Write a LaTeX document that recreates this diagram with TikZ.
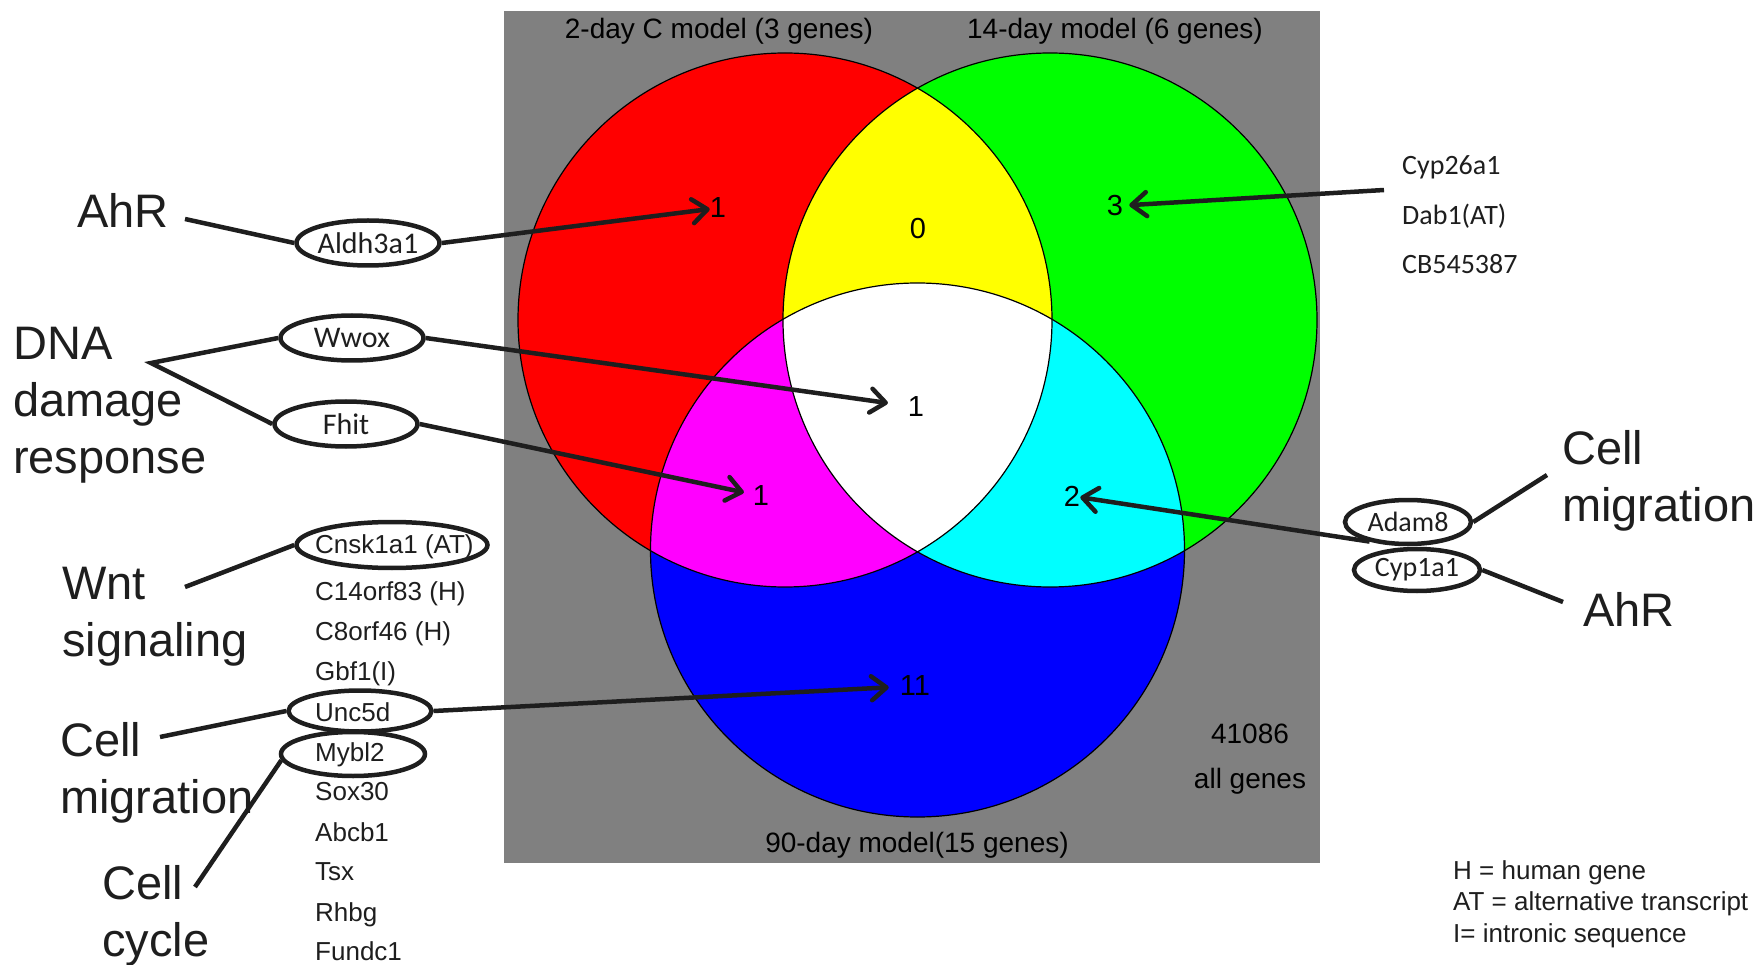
\documentclass[tikz,border=0pt]{standalone}
\usepackage{fontspec}
\setmainfont{Liberation Sans}
\newfontfamily\calfont{Carlito}
\usepackage{xcolor}
\usepackage{tikz}
\usetikzlibrary{shapes}
\usetikzlibrary{arrows.meta}
\definecolor{ink}{HTML}{1E1E1E}
\definecolor{venngray}{HTML}{808080}
\definecolor{vennmagenta}{RGB}{255,0,255}
\definecolor{venncyan}{RGB}{0,255,255}
\definecolor{vennyellow}{RGB}{255,255,0}
\tikzset{ region/.style = {draw=black, line width=1.2pt} }
\tikzset{ boxlabel/.style = {inner sep=0pt, anchor=base, font=\fontsize{28}{34}\selectfont} }
\tikzset{ tally/.style = {inner sep=0pt, font=\fontsize{29}{34}\selectfont} }
\tikzset{ topic/.style = {inner sep=0pt, anchor=north west, align=left, text=ink, font=\fontsize{47}{57}\selectfont} }
\tikzset{ gene/.style = {ellipse, draw=ink, line width=4.5pt, inner sep=0pt, text=ink} }
\tikzset{ leftgene/.style = {gene, minimum width=143pt, minimum height=45pt, font=\calfont\fontsize{30}{36}\selectfont} }
\tikzset{ rightgene/.style = {gene, minimum width=126pt, minimum height=44pt, font=\calfont\fontsize{28}{34}\selectfont} }
\tikzset{ genename/.style = {inner sep=0pt, anchor=base west, text=ink, font=\fontsize{26}{30}\selectfont} }
\tikzset{ calname/.style = {inner sep=0pt, anchor=base west, text=ink, font=\calfont\fontsize{28}{34}\selectfont} }
\tikzset{ link/.style = {draw=ink, line width=4.5pt} }
\tikzset{ pointer/.style = {link, -{Straight Barb[length=15pt, width=24pt, round]}} }

\begin{document}
\begin{tikzpicture}[x=1pt, y=-1pt]
    \useasboundingbox (0,0) rectangle (1762,965);
    \def\rad{267}
    \coordinate (cA) at (785,320);
    \coordinate (cB) at (1050,320);
    \coordinate (cC) at (917.5,550);
    \fill[venngray] (504,11) rectangle (1320,863);
    \fill[red] (cA) circle[radius=\rad];
    \fill[green] (cB) circle[radius=\rad];
    \fill[blue] (cC) circle[radius=\rad];
    \begin{scope}
        \clip (cA) circle[radius=\rad];
        \fill[vennyellow] (cB) circle[radius=\rad];
        \fill[vennmagenta] (cC) circle[radius=\rad];
    \end{scope}
    \begin{scope}
        \clip (cB) circle[radius=\rad];
        \fill[venncyan] (cC) circle[radius=\rad];
    \end{scope}
    \begin{scope}
        \clip (cA) circle[radius=\rad];
        \clip (cB) circle[radius=\rad];
        \fill[white] (cC) circle[radius=\rad];
    \end{scope}
    \draw[region] (cA) circle[radius=\rad];
    \draw[region] (cB) circle[radius=\rad];
    \draw[region] (cC) circle[radius=\rad];

    \node[boxlabel] (t2) at (719,39) {2-day C model (3 genes)};
    \node[boxlabel] (t14) at (1115,39) {14-day model (6 genes)};
    \node[boxlabel] (t90) at (917,852) {90-day model(15 genes)};
    \node[boxlabel] (all) at (1250,743) {41086};
    \node[boxlabel] (allg) at (1250,788) {all genes};

    \node[tally] (n100) at (718,208) {1};
    \node[tally] (n110) at (918,229) {0};
    \node[tally] (n010) at (1115,206) {3};
    \node[tally] (n111) at (916,407) {1};
    \node[tally] (n101) at (761,496) {1};
    \node[tally] (n011) at (1072,496) {2};
    \node[tally] (n001) at (915,686) {11};

    \node[topic] (ahrL) at (77,193) {AhR};
    \node[topic] (dnaL) at (13,327) {DNA\\damage\\response};
    \node[topic] (wntL) at (62,567) {Wnt\\signaling};
    \node[topic] (migL) at (60,722) {Cell\\migration};
    \node[topic] (cycL) at (102,865) {Cell\\cycle};
    \node[topic] (migR) at (1562,430) {Cell\\migration};
    \node[topic] (ahrR) at (1583,592) {AhR};

    \node[leftgene] (aldh) at (368,243) {Aldh3a1};
    \node[leftgene] (wwox) at (352,338) {Wwox};
    \node[leftgene] (fhit) at (346,424) {Fhit};
    \node[rightgene] (adam) at (1408,522) {Adam8};
    \node[rightgene, minimum height=42pt] (cyp) at (1417,570) {Cyp1a1};

    \foreach \g/\y [count=\i] in {Cnsk1a1 (AT)/553, C14orf83 (H)/600, C8orf46 (H)/640, Gbf1(I)/680, Unc5d/721, Mybl2/761, Sox30/800, Abcb1/841, Tsx/880, Rhbg/921, Fundc1/960}
        \node[genename] (g\i) at (315,\y) {\g};
    \node[gene, minimum width=191pt, minimum height=46pt] (cnsk) at (392,545) {};
    \node[gene, minimum width=143pt, minimum height=41pt] (unc) at (360,711) {};
    \node[gene, minimum width=144pt, minimum height=44pt] (mybl) at (353,754) {};

    \foreach \g [count=\i] in {Cyp26a1, Dab1(AT), CB545387}
        \node[calname] (c\i) at (1402,{125.5+49.5*\i}) {\g};

    \node[inner sep=0pt, anchor=north west, align=left, text=ink, font=\fontsize{26}{31.5}\selectfont] (key) at (1453,860) {H = human gene\\AT = alternative transcript\\I= intronic sequence};

    \coordinate (ahrfoot) at (185,219);
    \coordinate (dnafork) at (151,363);
    \coordinate (wntfoot) at (185,587);
    \coordinate (migfoot) at (160,737);
    \coordinate (cycfoot) at (195,887);
    \coordinate (cyplist) at (1384,190);
    \coordinate (migRfoot) at (1547,475);
    \coordinate (ahrRfoot) at (1563,602);

    \draw[link] (ahrfoot) to (aldh.west);
    \draw[link] (wwox.west) to (dnafork) to (fhit.west);
    \draw[link] (wntfoot) to (cnsk.west);
    \draw[link] (migfoot) to (unc.west);
    \draw[link] (cycfoot) to (mybl.185);
    \draw[link] (adam.east) to (migRfoot);
    \draw[link] (cyp.east) to (ahrRfoot);
    \draw[pointer] (aldh.east) to (n100);
    \draw[pointer, shorten >=20pt] (wwox.east) to (n111);
    \draw[pointer, shorten >=9pt] (fhit.east) to (n101);
    \draw[pointer, shorten >=11pt] (unc.east) to (n001);
    \draw[pointer, shorten >=6pt] (cyplist) to (n010);
    \draw[pointer] (adam.207) to (n011);
\end{tikzpicture}
\end{document}
